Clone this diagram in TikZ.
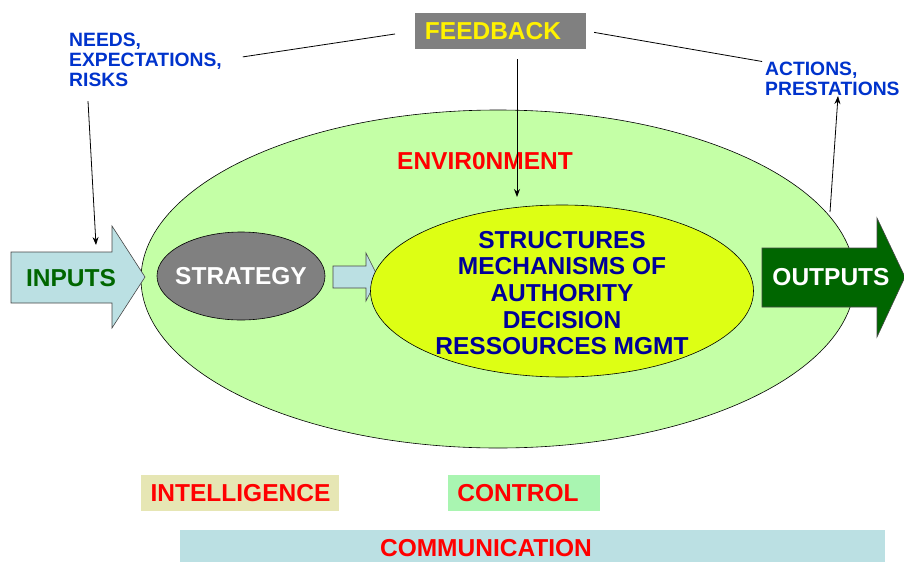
\documentclass[tikz,border=0pt]{standalone}
\usepackage{fontspec}
\setmainfont{Liberation Sans}
\usetikzlibrary{arrows.meta,positioning,shapes.geometric}

\definecolor{envgreen}{RGB}{196,255,166}
\definecolor{coreyellow}{RGB}{221,255,20}
\definecolor{boxgray}{RGB}{128,128,128}
\definecolor{paleblue}{RGB}{187,224,227}
\definecolor{darkgreen}{RGB}{0,102,0}
\definecolor{navy}{RGB}{0,0,153}
\definecolor{labelblue}{RGB}{0,51,204}
\definecolor{khaki}{RGB}{230,230,180}
\definecolor{mint}{RGB}{169,245,177}
\definecolor{edgegray}{RGB}{70,70,70}

\begin{document}
\begin{tikzpicture}[
    x=1pt, y=-1pt,
    bigfont/.style={font=\bfseries\fontsize{24.5}{26.7}\selectfont},
    smallfont/.style={font=\bfseries\fontsize{19.3}{20}\selectfont, text=labelblue, align=left, inner sep=0pt},
    oval/.style={ellipse, draw=black, line width=0.6pt, inner sep=0pt},
    blockarrow/.style={draw=edgegray, line width=0.6pt},
    tagbox/.style={minimum height=36, inner sep=0pt},
    tagtext/.style={bigfont, text=red, inner sep=0pt},
    arrow/.style={-{Stealth[length=8pt,width=6pt]}, line width=0.8pt},
    link/.style={line width=0.8pt}
]
\useasboundingbox (0,0) rectangle (904,562);

% Environment
\node[oval, fill=envgreen, minimum width=714, minimum height=338] (env) at (498,279) {};
\node[tagtext] (envtext) at (485,161) {ENVIR0NMENT};

% Inputs and strategy
\filldraw[blockarrow, fill=paleblue] (11,252) -- (112,252) -- (112,226) -- (145,277)
    -- (112,328) -- (112,303) -- (11,303) -- cycle;
\node[bigfont, text=darkgreen, inner sep=0pt] (inputs) at (71,278) {INPUTS};
\node[oval, fill=boxgray, minimum width=168, minimum height=88] (strategy) at (241,276) {};
\node[bigfont, text=white, inner sep=0pt] (strategytext) at (strategy) {STRATEGY};
\filldraw[blockarrow, fill=paleblue] (333,266) -- (366,266) -- (366,253) -- (378,277)
    -- (366,301) -- (366,288) -- (333,288) -- cycle;

% Core
\node[oval, fill=coreyellow, minimum width=383, minimum height=172] (core) at (562,291) {};
\node[bigfont, text=navy, align=center, inner sep=0pt] (coretext) at (562,293)
    {STRUCTURES\\MECHANISMS OF\\AUTHORITY\\DECISION\\RESSOURCES MGMT};

% Outputs
\filldraw[blockarrow, fill=darkgreen] (762,248) -- (877,248) -- (877,218) -- (905,277)
    -- (877,337) -- (877,307) -- (762,307) -- cycle;
\node[bigfont, text=white, inner sep=0pt] (outputs) at (831,277) {OUTPUTS};

% Feedback and labels
\node[fill=boxgray, minimum width=171, minimum height=36, inner sep=0pt] (feedback) at (500.5,31) {};
\node[bigfont, text=yellow, inner sep=0pt] (feedbacktext) at (493,31) {FEEDBACK};
\node[smallfont, anchor=north west] (needs) at (69,33) {NEEDS,\\EXPECTATIONS,\\RISKS};
\node[smallfont, anchor=north west] (actions) at (765,62) {ACTIONS,\\PRESTATIONS};

\coordinate (inputstop) at (96,245);
\coordinate (coretop) at (517,197);
\coordinate (outputsup) at (830,212);

\draw[link, shorten <=21pt, shorten >=20pt] (needs.east) -- (feedback.west);
\draw[link, shorten <=8pt, shorten >=3pt] (feedback.east) -- (actions.north west);
\draw[arrow] ([xshift=19pt,yshift=-14pt]needs.south west) -- (inputstop);
\draw[arrow] ([xshift=16.5pt,yshift=-10pt]feedback.south) -- (coretop);
\draw[arrow] (outputsup) -- ([xshift=73pt]actions.south west);

% Functions
\node[tagbox, fill=khaki, minimum width=198] (intelligence) at (240,493) {};
\node[tagtext] (intelligencetext) at (240.5,493) {INTELLIGENCE};
\node[tagbox, fill=mint, minimum width=152] (control) at (524,493) {};
\node[tagtext] (controltext) at (518,493) {CONTROL};
\fill[paleblue] (180,530) rectangle (885,562);
\node[tagtext] (communication) at (486,548) {COMMUNICATION};

\end{tikzpicture}
\end{document}
